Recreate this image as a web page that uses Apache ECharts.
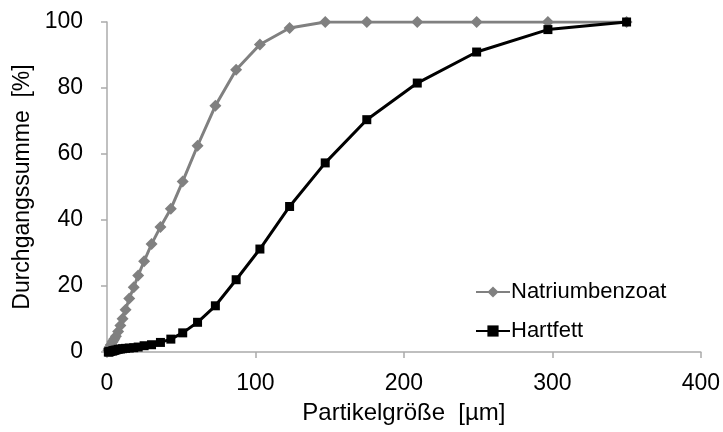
<!DOCTYPE html>
<html>
<head>
<meta charset="utf-8">
<script src="https://cdn.jsdelivr.net/npm/echarts@6/dist/echarts.min.js"></script>
<style>
html,body{margin:0;padding:0;background:#fff;}
#c{width:723px;height:432px;}
</style>
</head>
<body>
<div id="c"></div>
<script>
// Particle size classes [µm]
var sizes = [0.9, 1.3, 1.8, 2.6, 3.7, 4.3, 5, 6, 7.5, 9, 10.5, 12.5, 15, 18, 21, 25, 30, 36, 43, 51, 61, 73, 87, 103, 123, 147, 175, 209, 249, 297, 350];
// Cumulative undersize [%]
var natriumbenzoat = [0.5, 1.0, 1.5, 2.2, 3.0, 3.5, 4.0, 4.8, 6.2, 8.0, 10.1, 12.8, 16.2, 19.6, 23.2, 27.5, 32.7, 37.9, 43.4, 51.7, 62.5, 74.6, 85.5, 93.2, 98.2, 100, 100, 100, 100, 100, 100];
var hartfett = [0, 0, 0.1, 0.2, 0.3, 0.4, 0.5, 0.6, 0.8, 0.9, 1.0, 1.1, 1.2, 1.3, 1.5, 1.9, 2.2, 2.9, 3.9, 5.8, 9.0, 14.0, 21.9, 31.2, 44.1, 57.3, 70.4, 81.5, 90.9, 97.7, 100];
var seriesNames = ['Natriumbenzoat', 'Hartfett'];
var xTitle = 'Partikelgröße  [µm]';
var yTitle = 'Durchgangssumme  [%]';

function pairs(xs, ys){ return xs.map(function(x,i){ return [x, ys[i]]; }); }

var chart = echarts.init(document.getElementById('c'), null, {renderer:'canvas'});
var font = 'Liberation Sans, Arial, sans-serif';
var axisGray = '#ababab';
chart.setOption({
  animation: false,
  backgroundColor: '#fff',
  grid: {left: 107, right: 20, top: 22, bottom: 80},
  legend: {
    orient: 'vertical',
    left: 470, top: 276,
    itemWidth: 34, itemHeight: 14, itemGap: 17,
    textStyle: {fontFamily: font, fontSize: 22, color: '#000', padding: [0,0,0,-4]},
    data: seriesNames
  },
  xAxis: {
    type: 'value', min: 0, max: 400, interval: 100,
    name: xTitle, nameLocation: 'middle', nameGap: 49,
    nameTextStyle: {fontFamily: font, fontSize: 24, color: '#000'},
    axisLine: {show: true, lineStyle: {color: axisGray, width: 1.5}},
    axisTick: {show: true, length: 6, lineStyle: {color: axisGray, width: 1.5}},
    axisLabel: {fontFamily: font, fontSize: 23, color: '#000', margin: 20},
    splitLine: {show: false}
  },
  yAxis: {
    type: 'value', min: 0, max: 100, interval: 20,
    name: yTitle, nameLocation: 'middle', nameGap: 72, nameRotate: 90,
    nameTextStyle: {fontFamily: font, fontSize: 23, color: '#000'},
    axisLine: {show: true, lineStyle: {color: axisGray, width: 1.5}},
    axisTick: {show: true, length: 6, lineStyle: {color: axisGray, width: 1.5}},
    axisLabel: {fontFamily: font, fontSize: 23, color: '#000', margin: 24},
    splitLine: {show: false}
  },
  series: [
    {
      name: seriesNames[0], type: 'line', data: pairs(sizes, natriumbenzoat),
      symbol: 'diamond', symbolSize: 12, showAllSymbol: true,
      lineStyle: {color: '#808080', width: 3},
      itemStyle: {color: '#808080'},
      z: 2
    },
    {
      name: seriesNames[1], type: 'line', data: pairs(sizes, hartfett),
      symbol: 'rect', symbolSize: 9, showAllSymbol: true,
      lineStyle: {color: '#000', width: 3},
      itemStyle: {color: '#000'},
      z: 3
    }
  ]
});
</script>
</body>
</html>
